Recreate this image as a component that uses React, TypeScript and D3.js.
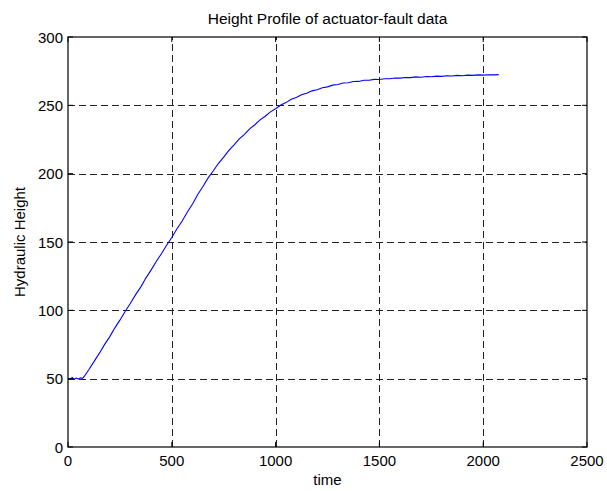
import React from "react";
import * as d3 from "d3";

// Hydraulic height recorded over time during the actuator-fault run
const timeValues = [
  0, 10, 20, 30, 40, 50, 60, 70, 80, 100, 125, 150, 175, 200, 225, 250, 275, 300,
  325, 350, 375, 400, 425, 450, 475, 500, 525, 550, 575, 600, 625, 650, 675, 700,
  725, 750, 775, 800, 825, 850, 875, 900, 925, 950, 975, 1000, 1025, 1050, 1075,
  1100, 1125, 1150, 1175, 1200, 1225, 1250, 1275, 1300, 1325, 1350, 1375, 1400,
  1425, 1450, 1475, 1500, 1525, 1550, 1575, 1600, 1625, 1650, 1675, 1700, 1725,
  1750, 1775, 1800, 1825, 1850, 1875, 1900, 1925, 1950, 1975, 2000, 2025, 2050, 2075,
];
const heightValues = [
  50, 49.5, 50.8, 49.6, 50.4, 49.8, 50.6, 50.2, 52, 56.5, 62.5, 68.3, 74.7, 80.4,
  87, 92.8, 99.2, 105, 111.3, 117, 123.6, 129.4, 135.7, 141.4, 147.6, 153.3, 159.7,
  165.4, 172, 177.8, 184.7, 190.6, 196.9, 202.1, 207.6, 212.1, 217.1, 221, 225.4,
  228.8, 232.8, 235.8, 239.4, 242, 245.2, 247.5, 250.2, 252, 254.4, 255.8, 257.8,
  258.9, 260.6, 261.4, 262.9, 263.5, 264.8, 265.2, 266.3, 266.5, 267.4, 267.5,
  268.3, 268.3, 269, 268.9, 269.5, 269.5, 270, 269.9, 270.4, 270.3, 270.8, 270.6,
  271.1, 270.9, 271.4, 271.2, 271.7, 271.5, 271.9, 271.7, 272.1, 271.9, 272.3,
  272.1, 272.4, 272.3, 272.5,
];
const xTicks = [0, 500, 1000, 1500, 2000, 2500];
const yTicks = [0, 50, 100, 150, 200, 250, 300];

const titleText = "Height Profile of actuator-fault data";
const xLabelText = "time";
const yLabelText = "Hydraulic Height";

const W = 607;
const H = 491;
const margin = { left: 68, right: 20, top: 37, bottom: 44 };
const FONT = "'Liberation Sans', Arial, Helvetica, sans-serif";
const FS = 15;

export default function App() {
  const x = d3
    .scaleLinear()
    .domain([0, 2500])
    .range([margin.left, W - margin.right]);
  const y = d3
    .scaleLinear()
    .domain([0, 300])
    .range([H - margin.bottom, margin.top]);

  const points: [number, number][] = timeValues.map((t, i) => [t, heightValues[i]]);
  const line = d3
    .line<[number, number]>()
    .x((d) => x(d[0]))
    .y((d) => y(d[1]));

  const x0 = x(0);
  const x1 = x(2500);
  const y0 = y(0);
  const y1 = y(300);
  const tickLen = 5;

  return (
    <svg
      width={W}
      height={H}
      style={{ position: "absolute", left: 0, top: 0, background: "#fff" }}
      fontFamily={FONT}
    >
      <rect x={0} y={0} width={W} height={H} fill="#fff" />
      {/* grid */}
      <g stroke="#222" strokeWidth={1} strokeDasharray="7,4" fill="none">
        {xTicks.slice(1, -1).map((t) => (
          <line key={"gx" + t} x1={Math.round(x(t)) + 0.5} x2={Math.round(x(t)) + 0.5} y1={y0} y2={y1} />
        ))}
        {yTicks.slice(1, -1).map((t) => (
          <line key={"gy" + t} x1={x0} x2={x1} y1={Math.round(y(t)) + 0.5} y2={Math.round(y(t)) + 0.5} />
        ))}
      </g>
      {/* data line */}
      <path d={line(points) || ""} fill="none" stroke="#0000ff" strokeWidth={1.1} />
      {/* axes box */}
      <rect x={x0} y={y1} width={x1 - x0} height={y0 - y1} fill="none" stroke="#000" strokeWidth={1.2} />
      {/* inward ticks */}
      <g stroke="#000" strokeWidth={1}>
        {xTicks.map((t) => (
          <g key={"tx" + t}>
            <line x1={x(t)} x2={x(t)} y1={y0} y2={y0 - tickLen} />
            <line x1={x(t)} x2={x(t)} y1={y1} y2={y1 + tickLen} />
          </g>
        ))}
        {yTicks.map((t) => (
          <g key={"ty" + t}>
            <line x1={x0} x2={x0 + tickLen} y1={y(t)} y2={y(t)} />
            <line x1={x1} x2={x1 - tickLen} y1={y(t)} y2={y(t)} />
          </g>
        ))}
      </g>
      {/* tick labels */}
      <g fontSize={FS} fill="#000">
        {xTicks.map((t) => (
          <text key={"lx" + t} x={x(t)} y={y0 + 18.5} textAnchor="middle">
            {t}
          </text>
        ))}
        {yTicks.map((t) => (
          <text key={"ly" + t} x={x0 - 5} y={y(t) + 5.5} textAnchor="end">
            {t}
          </text>
        ))}
      </g>
      <text x={(x0 + x1) / 2} y={24} textAnchor="middle" fontSize={15.5}>
        {titleText}
      </text>
      <text x={(x0 + x1) / 2} y={485} textAnchor="middle" fontSize={FS}>
        {xLabelText}
      </text>
      <text
        transform={`translate(25, ${(y0 + y1) / 2}) rotate(-90)`}
        textAnchor="middle"
        fontSize={FS}
      >
        {yLabelText}
      </text>
    </svg>
  );
}
